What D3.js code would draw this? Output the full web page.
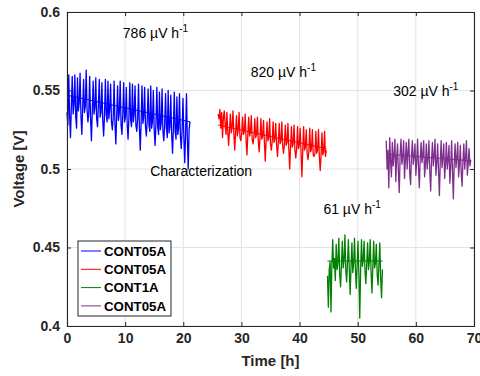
<!DOCTYPE html>
<html><head><meta charset="utf-8">
<script src="https://cdn.jsdelivr.net/npm/d3@7"></script>
<style>body{margin:0;background:#fff}svg{display:block}text{font-family:"Liberation Sans",Arial,sans-serif}</style>
</head><body><svg id="c" width="480" height="376"></svg>
<script>
const xTicks=[0,10,20,30,40,50,60,70];
const yTicks=[0.4,0.45,0.5,0.55,0.6];
const yTickLabels=["0.4","0.45","0.5","0.55","0.6"];
const seriesNames=["CONT05A","CONT05A","CONT1A","CONT05A"];
const seriesColors=["#0000ff","#ff0000","#008000","#7e2f8e"];
const seriesStart=[0,26.0,44.8,54.9];
const sampleStep=0.15;
const blueV=[0.536,0.528,0.560,0.534,0.520,0.540,0.559,0.535,0.541,0.560,
0.533,0.526,0.558,0.537,0.542,0.561,0.534,0.522,0.539,0.557,
0.536,0.540,0.563,0.538,0.530,0.536,0.559,0.533,0.518,0.537,
0.556,0.535,0.539,0.558,0.532,0.527,0.541,0.557,0.533,0.536,
0.555,0.531,0.521,0.534,0.557,0.535,0.530,0.556,0.532,0.538,
0.554,0.530,0.525,0.533,0.556,0.529,0.516,0.534,0.553,0.531,
0.536,0.556,0.528,0.522,0.535,0.555,0.530,0.533,0.552,0.529,
0.519,0.533,0.555,0.531,0.527,0.554,0.530,0.535,0.553,0.528,
0.524,0.532,0.554,0.527,0.512,0.530,0.553,0.529,0.533,0.552,
0.527,0.521,0.531,0.551,0.528,0.524,0.553,0.526,0.530,0.550,
0.525,0.515,0.529,0.552,0.527,0.522,0.549,0.525,0.529,0.551,
0.524,0.518,0.528,0.548,0.526,0.520,0.550,0.523,0.527,0.547,
0.522,0.510,0.526,0.549,0.524,0.519,0.546,0.522,0.526,0.548,
0.521,0.513,0.525,0.545,0.520,0.504,0.523,0.548,0.519,0.500,
0.525,0.530];
const redV=[0.535,0.532,0.538,0.526,0.536,0.520,0.533,0.537,0.528,0.522,
0.536,0.524,0.515,0.525,0.535,0.523,0.527,0.537,0.522,0.512,
0.524,0.534,0.521,0.525,0.536,0.520,0.518,0.523,0.533,0.522,
0.524,0.535,0.519,0.509,0.522,0.533,0.521,0.523,0.534,0.519,
0.516,0.521,0.532,0.520,0.522,0.533,0.518,0.511,0.520,0.532,
0.519,0.521,0.531,0.517,0.505,0.519,0.530,0.518,0.520,0.532,
0.516,0.512,0.518,0.530,0.517,0.519,0.529,0.515,0.508,0.517,
0.529,0.516,0.518,0.530,0.514,0.510,0.516,0.528,0.515,0.517,
0.529,0.513,0.500,0.514,0.527,0.514,0.516,0.528,0.512,0.507,
0.513,0.527,0.513,0.515,0.526,0.511,0.495,0.512,0.527,0.512,
0.514,0.525,0.510,0.506,0.511,0.526,0.511,0.513,0.525,0.509,
0.508,0.510,0.524,0.510,0.512,0.525,0.508,0.499,0.509,0.523,
0.509,0.511,0.524,0.508,0.512];
const greenV=[0.432,0.412,0.436,0.441,0.409,0.438,0.455,0.437,0.443,0.429,
0.452,0.436,0.440,0.456,0.433,0.425,0.439,0.454,0.437,0.442,
0.458,0.435,0.428,0.441,0.455,0.436,0.420,0.438,0.453,0.434,
0.440,0.456,0.437,0.424,0.439,0.454,0.433,0.405,0.436,0.455,
0.438,0.442,0.454,0.435,0.427,0.440,0.453,0.436,0.441,0.455,
0.434,0.421,0.438,0.454,0.437,0.440,0.452,0.433,0.426,0.439,
0.453,0.430,0.418,0.436];
const purpleV=[0.518,0.500,0.512,0.488,0.520,0.505,0.495,0.517,0.502,0.509,
0.519,0.492,0.507,0.516,0.498,0.485,0.510,0.519,0.503,0.508,
0.518,0.494,0.506,0.517,0.500,0.511,0.519,0.497,0.490,0.509,
0.518,0.503,0.508,0.516,0.496,0.505,0.519,0.501,0.488,0.507,
0.517,0.504,0.509,0.518,0.495,0.503,0.516,0.500,0.507,0.518,
0.498,0.486,0.506,0.517,0.502,0.508,0.519,0.496,0.504,0.516,
0.499,0.483,0.505,0.518,0.501,0.507,0.516,0.494,0.503,0.517,
0.500,0.506,0.515,0.491,0.502,0.518,0.499,0.481,0.504,0.516,
0.501,0.507,0.517,0.495,0.503,0.515,0.498,0.489,0.505,0.516,
0.500,0.507,0.518,0.496,0.503,0.513,0.502,0.506];
const trendT=[[0,21.2],[26.0,44.6],[44.8,54.3],[54.9,69.5]];
const trendV=[[0.547,0.530],[0.528,0.513],[0.4414,0.4414],[0.5095,0.5052]];
const annotations=[{t:"786 µV h",x:9.6,v:0.5833},{t:"820 µV h",x:31.6,v:0.5585},{t:"302 µV h",x:56.1,v:0.5465},{t:"61 µV h",x:44.1,v:0.4711}];
const charLabel={t:"Characterization",x:14.3,v:0.4955};

const svg=d3.select("#c");
const m={l:67,r:474,t:12,b:326};
const x=d3.scaleLinear().domain([0,70]).range([m.l,m.r]);
const y=d3.scaleLinear().domain([0.4,0.6]).range([m.b,m.t]);
// grid
svg.append("g").selectAll("line").data(xTicks).join("line")
 .attr("x1",d=>x(d)).attr("x2",d=>x(d)).attr("y1",m.t).attr("y2",m.b).attr("stroke","#e3e3e3").attr("stroke-width",1);
svg.append("g").selectAll("line").data(yTicks).join("line")
 .attr("y1",d=>y(d)).attr("y2",d=>y(d)).attr("x1",m.l).attr("x2",m.r).attr("stroke","#e3e3e3").attr("stroke-width",1);
// data
const allV=[blueV,redV,greenV,purpleV];
const line=d3.line().x(d=>x(d[0])).y(d=>y(d[1]));
allV.forEach((vals,i)=>{
 const pts=vals.map((v,k)=>[seriesStart[i]+k*sampleStep,v]);
 svg.append("path").attr("d",line(pts)).attr("fill","none").attr("stroke",seriesColors[i]).attr("stroke-width",1.3).attr("stroke-linejoin","round");
 svg.append("path").attr("d",line([[trendT[i][0],trendV[i][0]],[trendT[i][1],trendV[i][1]]])).attr("fill","none").attr("stroke",seriesColors[i]).attr("stroke-width",1);
});
// axes
const xa=d3.axisBottom(x).tickValues(xTicks).tickSize(-4).tickPadding(7).tickFormat(d3.format("d"));
const ya=d3.axisLeft(y).tickValues(yTicks).tickSize(-4).tickPadding(7).tickFormat((d,i)=>yTickLabels[i]);
const gx=svg.append("g").attr("transform",`translate(0,${m.b})`).call(xa);
const gy=svg.append("g").attr("transform",`translate(${m.l},0)`).call(ya);
svg.append("g").attr("transform",`translate(0,${m.t})`).call(d3.axisTop(x).tickValues(xTicks).tickSize(-4).tickFormat(""));
svg.append("g").attr("transform",`translate(${m.r},0)`).call(d3.axisRight(y).tickValues(yTicks).tickSize(-4).tickFormat(""));
svg.selectAll(".domain").attr("stroke","#262626").attr("stroke-width",1.1);
svg.selectAll(".tick line").attr("stroke","#262626");
[gx,gy].forEach(g=>g.selectAll("text").attr("font-size",14).attr("font-weight","bold").attr("fill","#262626").style("font-family","'Liberation Sans',Arial,sans-serif"));
// axis labels
svg.append("text").attr("x",(m.l+m.r)/2).attr("y",366).attr("text-anchor","middle").attr("font-size",15).attr("font-weight","bold").attr("fill","#262626").text("Time [h]");
svg.append("text").attr("transform",`translate(24,${(m.t+m.b)/2}) rotate(-90)`).attr("text-anchor","middle").attr("font-size",15).attr("font-weight","bold").attr("fill","#262626").text("Voltage [V]");
// annotations
annotations.forEach(a=>{
 const t=svg.append("text").attr("x",x(a.x)).attr("y",y(a.v)).attr("font-size",14).attr("fill","#000");
 t.append("tspan").text(a.t);
 t.append("tspan").attr("dy",-6).attr("font-size",10).text("-1");
});
svg.append("text").attr("x",x(charLabel.x)).attr("y",y(charLabel.v)).attr("font-size",14).attr("fill","#000").text(charLabel.t);
// legend
const lg=svg.append("g");
lg.append("rect").attr("x",78).attr("y",241).attr("width",93).attr("height",75).attr("fill","#fff").attr("stroke","#262626").attr("stroke-width",1);
seriesNames.forEach((n,i)=>{
 const yy=251+i*18.3;
 lg.append("line").attr("x1",81).attr("x2",101).attr("y1",yy).attr("y2",yy).attr("stroke",seriesColors[i]).attr("stroke-width",1);
 lg.append("text").attr("x",104).attr("y",yy+4.8).attr("font-size",13.3).attr("font-weight","bold").attr("fill","#000").text(n);
});
</script></body></html>
